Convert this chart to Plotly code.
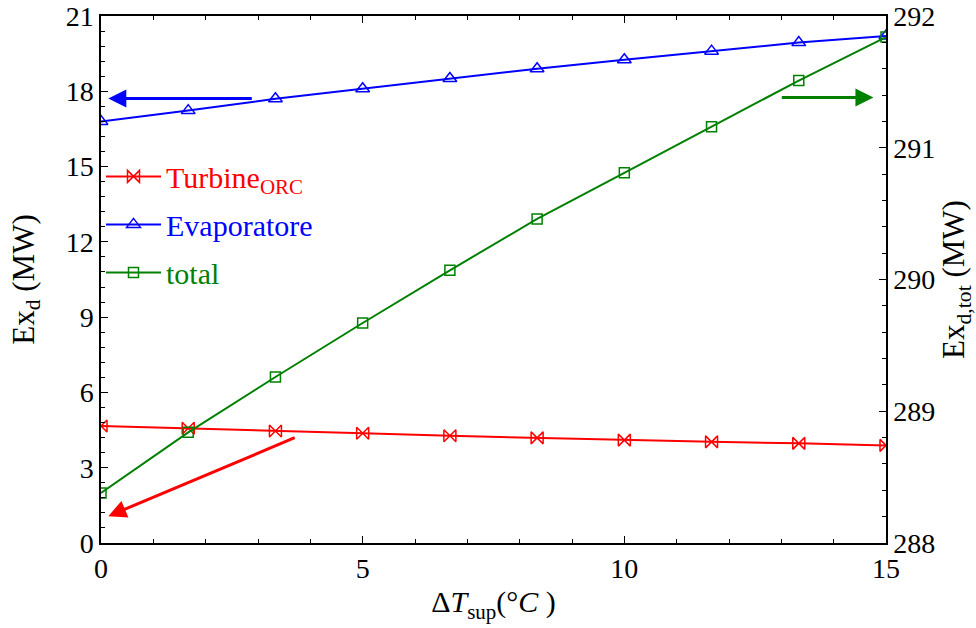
import plotly.graph_objects as go

# ---- data ----
dT_sup = [0, 5/3, 10/3, 5, 20/3, 25/3, 10, 35/3, 40/3, 15]
turbine_orc = [4.66, 4.57, 4.46, 4.37, 4.27, 4.19, 4.10, 4.03, 3.97, 3.89]
evaporatore = [16.80, 17.23, 17.70, 18.10, 18.51, 18.90, 19.26, 19.60, 19.94, 20.20]
total = [288.38, 288.84, 289.26, 289.67, 290.07, 290.46, 290.81, 291.16, 291.51, 291.84]

x_ticks = [0, 5, 10, 15]
y_ticks = [0, 3, 6, 9, 12, 15, 18, 21]
y2_ticks = [288, 289, 290, 291, 292]

FONT = "Liberation Serif"
RED, BLUE, GREEN = "#FF0000", "#0000FF", "#008000"

fig = go.Figure()
fig.add_trace(go.Scatter(
    x=dT_sup, y=turbine_orc, mode="lines+markers",
    name='<span style="color:#FF0000">Turbine<sub>ORC</sub></span>',
    legendgroup="a",
    line=dict(color=RED, width=2),
    marker=dict(symbol="bowtie-open", size=12, color=RED, line=dict(width=1.5, color=RED)),
))
fig.add_trace(go.Scatter(
    x=dT_sup, y=evaporatore, mode="lines+markers",
    name='<span style="color:#0000FF">Evaporatore</span>',
    legendgroup="b",
    line=dict(color=BLUE, width=2),
    marker=dict(symbol="triangle-up-open", size=12, color=BLUE, line=dict(width=1.5, color=BLUE)),
))
fig.add_trace(go.Scatter(
    x=dT_sup, y=total, mode="lines+markers", yaxis="y2",
    name='<span style="color:#008000">total</span>',
    legendgroup="c",
    line=dict(color=GREEN, width=2),
    marker=dict(symbol="square-open", size=10, color=GREEN, line=dict(width=1.5, color=GREEN)),
))

# arrows
arrows = [
    dict(x=0.14, y=17.71, ax=2.91, ay=17.71, color=BLUE),
    dict(x=14.76, y=17.75, ax=12.98, ay=17.75, color=GREEN),
    dict(x=0.14, y=1.07, ax=3.73, ay=4.22, color=RED),
]
for a in arrows:
    fig.add_annotation(x=a["x"], y=a["y"], ax=a["ax"], ay=a["ay"],
                       xref="x", yref="y", axref="x", ayref="y",
                       text="", showarrow=True, arrowhead=2, arrowsize=1.2,
                       arrowwidth=3, arrowcolor=a["color"])

axis_common = dict(
    showline=True, linecolor="black", linewidth=1.5,
    ticks="inside", ticklen=7, tickwidth=1.2, tickcolor="black",
    showgrid=False, zeroline=False, automargin=False,
    tickfont=dict(family=FONT, size=28, color="black"),
)

fig.update_layout(
    width=976, height=628,
    margin=dict(l=101, r=90, t=16, b=85),
    paper_bgcolor="white", plot_bgcolor="white",
    font=dict(family=FONT, color="black"),
    showlegend=True,
    legend=dict(x=0.0, y=0.745, xanchor="left", yanchor="top",
                bgcolor="rgba(0,0,0,0)", font=dict(family=FONT, size=30),
                tracegroupgap=6, itemwidth=55),
    xaxis=dict(
        range=[0, 15], tickvals=x_ticks, mirror="ticks",
        minor=dict(ticks="inside", dtick=1, ticklen=4, tickcolor="black", showgrid=False),
        title=dict(text="Δ<i>T</i><sub>sup</sub>(°<i>C</i> )",
                   font=dict(family=FONT, size=30), standoff=8),
        **axis_common,
    ),
    yaxis=dict(
        range=[0, 21], tickvals=y_ticks,
        minor=dict(ticks="inside", dtick=0.6, ticklen=4, tickcolor="black", showgrid=False),
        title=dict(text="Ex<sub>d</sub> (MW)", font=dict(family=FONT, size=31), standoff=22),
        **axis_common,
    ),
    yaxis2=dict(
        range=[288, 292], tickvals=y2_ticks, overlaying="y", side="right",
        minor=dict(ticks="inside", dtick=0.2, ticklen=4, tickcolor="black", showgrid=False),
        title=dict(text="Ex<sub>d,tot</sub> (MW)", font=dict(family=FONT, size=31), standoff=12),
        **axis_common,
    ),
)

fig.write_html("out.html")
